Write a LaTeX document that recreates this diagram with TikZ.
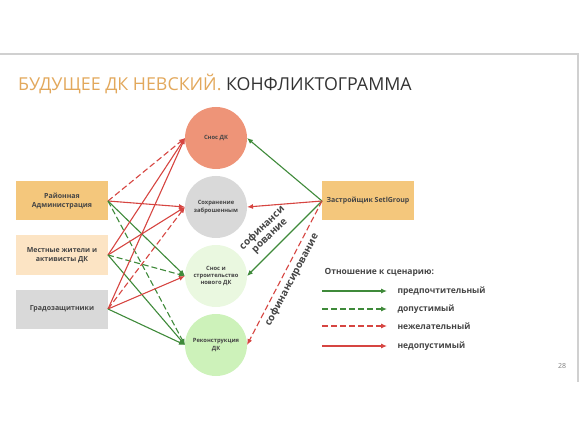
\documentclass[tikz,border=0pt]{standalone}
\usepackage{fontspec}
\setmainfont{Open Sans}
\definecolor{TitleOrange}{HTML}{E2A85C}
\definecolor{TitleGray}{HTML}{333333}
\definecolor{TextGray}{HTML}{454545}
\definecolor{BoxOrange}{HTML}{F4C77C}
\definecolor{BoxBeige}{HTML}{FCE4C4}
\definecolor{BoxGray}{HTML}{D9D9D9}
\definecolor{CircSalmon}{HTML}{EE9478}
\definecolor{CircPale}{HTML}{EAF8E0}
\definecolor{CircGreen}{HTML}{CDF2BA}
\definecolor{ArrGreen}{HTML}{3F8A3A}
\definecolor{ArrRed}{HTML}{D64541}
\definecolor{SlideEdge}{HTML}{D0D0D0}
\usetikzlibrary{arrows.meta, positioning, calc}
\tikzset{
  actorbox/.style={rectangle, minimum width=92pt, minimum height=39pt, inner sep=2pt, outer sep=0pt, align=center, text=TextGray, font=\bfseries\fontsize{7}{8.8}\selectfont},
  scenario/.style={circle, minimum size=62pt, inner sep=1pt, outer sep=0pt, align=center, text=TextGray, font=\bfseries\fontsize{5.8}{7.2}\selectfont},
  preferred/.style={-{Latex[length=6pt,width=5pt]}, line width=1.1pt, ArrGreen},
  allowed/.style={-{Latex[length=6pt,width=5pt]}, line width=1.1pt, ArrGreen, dash pattern=on 6pt off 3pt},
  undesired/.style={-{Latex[length=6pt,width=5pt]}, line width=1.1pt, ArrRed, dash pattern=on 6pt off 3pt},
  forbidden/.style={-{Latex[length=6pt,width=5pt]}, line width=1.1pt, ArrRed},
  cofin/.style={text=TextGray, align=center, font=\bfseries\fontsize{10}{10.5}\selectfont},
  legtext/.style={anchor=west, text=TextGray, font=\bfseries\fontsize{8.5}{10}\selectfont}
}

\begin{document}
\begin{tikzpicture}[x=1pt, y=-1pt]
  \useasboundingbox (0,0) rectangle (580,435);
  \draw[SlideEdge, line width=1.5pt] (0,54) -- (578,54) -- (578,382);

  \node[anchor=base west, inner sep=0pt, font=\fontsize{17.8}{20}\selectfont] (title) at (18,91)
    {\textcolor{TitleOrange}{БУДУЩЕЕ ДК НЕВСКИЙ.} \textcolor{TitleGray}{КОНФЛИКТОГРАММА}};

  % actors on the left
  \node[actorbox, fill=BoxOrange] (adm) at (62,201) {Районная\\Администрация};
  \node[actorbox, fill=BoxBeige, below=15pt of adm] (mest) {Местные жители и\\активисты ДК};
  \node[actorbox, fill=BoxGray, below=15pt of mest] (grad) {Градозащитники};

  % scenarios
  \node[scenario, fill=CircSalmon] (snos) at (216,138) {Снос ДК};
  \node[scenario, fill=BoxGray, below=7pt of snos] (sohr) {Сохранение\\заброшенным};
  \node[scenario, fill=CircPale, below=7pt of sohr] (novy) {Снос и\\строительство\\нового ДК};
  \node[scenario, fill=CircGreen, below=7pt of novy] (rekon) {Реконструкция\\ДК};

  % developer
  \node[actorbox, fill=BoxOrange] (zastr) at (368,201) {Застройщик SetlGroup};

  \draw[undesired] (adm.east) -- (snos.west);
  \draw[forbidden] (adm.east) -- (sohr.west);
  \draw[preferred] (adm.east) -- (novy.west);
  \draw[allowed] (adm.east) -- (rekon.west);

  \draw[forbidden] (mest.east) -- (snos.west);
  \draw[forbidden] (mest.east) -- (sohr.west);
  \draw[allowed] (mest.east) -- (novy.west);
  \draw[preferred] (mest.east) -- (rekon.west);

  \draw[forbidden] (grad.east) -- (snos.west);
  \draw[undesired] (grad.east) -- (sohr.west);
  \draw[forbidden] (grad.east) -- (novy.west);
  \draw[preferred] (grad.east) -- (rekon.west);

  \draw[preferred] (zastr.west) -- (snos.east);
  \draw[forbidden] (zastr.west) -- (sohr.east);
  \draw[preferred] (zastr.west) -- (novy.east);
  \draw[undesired] (zastr.west) -- (rekon.east);

  \node[cofin, rotate=44] (cofin1) at (266,232) {софинанси\\рование};
  \node[cofin, rotate=62] (cofin2) at (292,280) {софинансирование};

  % legend
  \node[legtext] (leghead) at (321,272) {Отношение к сценарию:};
  \node[legtext] (lg1) at (394,291) {предпочтительный};
  \node[legtext] (lg2) at (394,309) {допустимый};
  \node[legtext] (lg3) at (394,326) {нежелательный};
  \node[legtext] (lg4) at (394,346) {недопустимый};
  \coordinate (lg1s) at (322,291);
  \coordinate (lg2s) at (322,309);
  \coordinate (lg3s) at (322,326);
  \coordinate (lg4s) at (322,346);
  \draw[preferred] (lg1s) -- ([xshift=-7pt]lg1.west);
  \draw[allowed] (lg2s) -- ([xshift=-7pt]lg2.west);
  \draw[undesired] (lg3s) -- ([xshift=-7pt]lg3.west);
  \draw[forbidden] (lg4s) -- ([xshift=-7pt]lg4.west);

  \node[text=gray, font=\fontsize{7}{8}\selectfont] (pnum) at (562,366) {28};
\end{tikzpicture}
\end{document}
